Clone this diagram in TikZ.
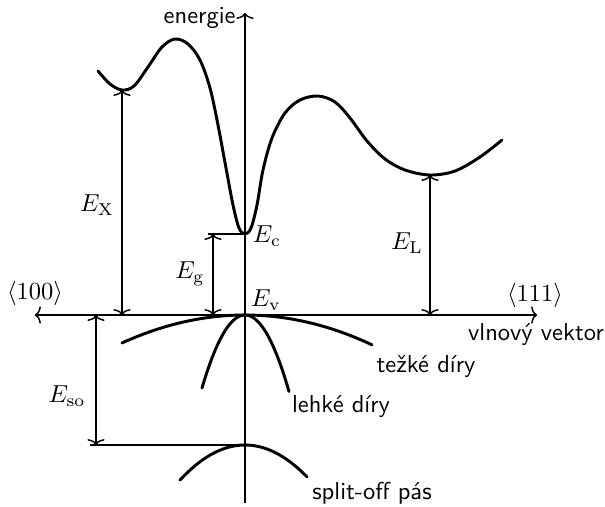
\documentclass[tikz,border=0pt]{standalone}
\usetikzlibrary{arrows.meta}
\begin{document}
\begin{tikzpicture}[x=0.408pt,y=-0.408pt,
  >={To[length=2.4pt,width=7pt]},
  axis/.style={line width=0.6pt},
  band/.style={line width=1.2pt,line cap=round},
  dim/.style={line width=0.6pt,<->},
  lab/.style={font=\sffamily,inner sep=0pt},
  mlab/.style={inner sep=0pt}]
\useasboundingbox (0,0) rectangle (605,506);
% axes
\coordinate (top) at (245,13);
\coordinate (bot) at (245,503);
\coordinate (left) at (35,315);
\coordinate (right) at (537,315);
\draw[axis,->] (bot) -- (top);
\draw[axis,<->] (left) -- (right);
% key points
\coordinate (Xmin) at (122,90);
\coordinate (Ec) at (245,234);
\coordinate (Lmin) at (430,175);
\coordinate (Ev) at (245,315);
\coordinate (Eso) at (245,445);
% conduction band
\draw[band] plot[smooth,tension=0.55] coordinates {
 (98,71) (110,84) (122,90) (134,86) (148,67) (162,47) (175,39) (188,44) (200,60)
 (210,88) (218,125) (226,168) (233,205) (239,228) (245,234) (251,228) (257,205)
 (263,170) (272,138) (285,113) (300,100) (318,96) (335,102) (350,118) (367,141)
 (385,159) (405,170) (430,175) (455,171) (480,157) (502,140)};
% valence bands
\draw[band,domain=122:372,samples=80] plot (\x,{315+18.5*((\x-245)/100)^2});
\draw[band,domain=202:289,samples=60] plot (\x,{315+395*((\x-245)/100)^2});
\draw[band,domain=180:307,samples=60] plot (\x,{445+83*((\x-245)/100)^2});
% dimension lines
\coordinate (Xax) at (122,315);
\draw[dim] (Xmin) -- (Xax);
\coordinate (gtop) at (213,234);
\coordinate (gtick) at (208,234);
\coordinate (gax) at (213,315);
\draw[axis] (gtick) -- (Ec);
\draw[dim] (gtop) -- (gax);
\coordinate (Lax) at (430,315);
\draw[dim] (Lmin) -- (Lax);
\coordinate (sotop) at (96,315);
\coordinate (sobot) at (96,445);
\coordinate (sotick) at (90,445);
\draw[axis] (sotick) -- (Eso);
\draw[dim] (sotop) -- (sobot);
% labels
\node[lab,anchor=base east] (energie) at (236,23) {energie};
\node[mlab] (k100) at (35,293) {$\langle 100\rangle$};
\node[mlab] (k111) at (535,295) {$\langle 111\rangle$};
\node[lab] (vv) at (536,334) {vlnový vektor};
\node[lab] (td) at (426,366) {težké díry};
\node[lab] (ld) at (341,406) {lehké díry};
\node[lab] (so) at (372,493) {split-off pás};
\node[mlab] (EX) at (97,205) {$E_{\mathrm{X}}$};
\node[mlab] (EcL) at (267,236) {$E_{\mathrm{c}}$};
\node[mlab] (Eg) at (190,274) {$E_{\mathrm{g}}$};
\node[mlab] (EvL) at (266,300) {$E_{\mathrm{v}}$};
\node[mlab] (EL) at (407,243) {$E_{\mathrm{L}}$};
\node[mlab] (Eso) at (67,396) {$E_{\mathrm{so}}$};
\end{tikzpicture}
\end{document}
